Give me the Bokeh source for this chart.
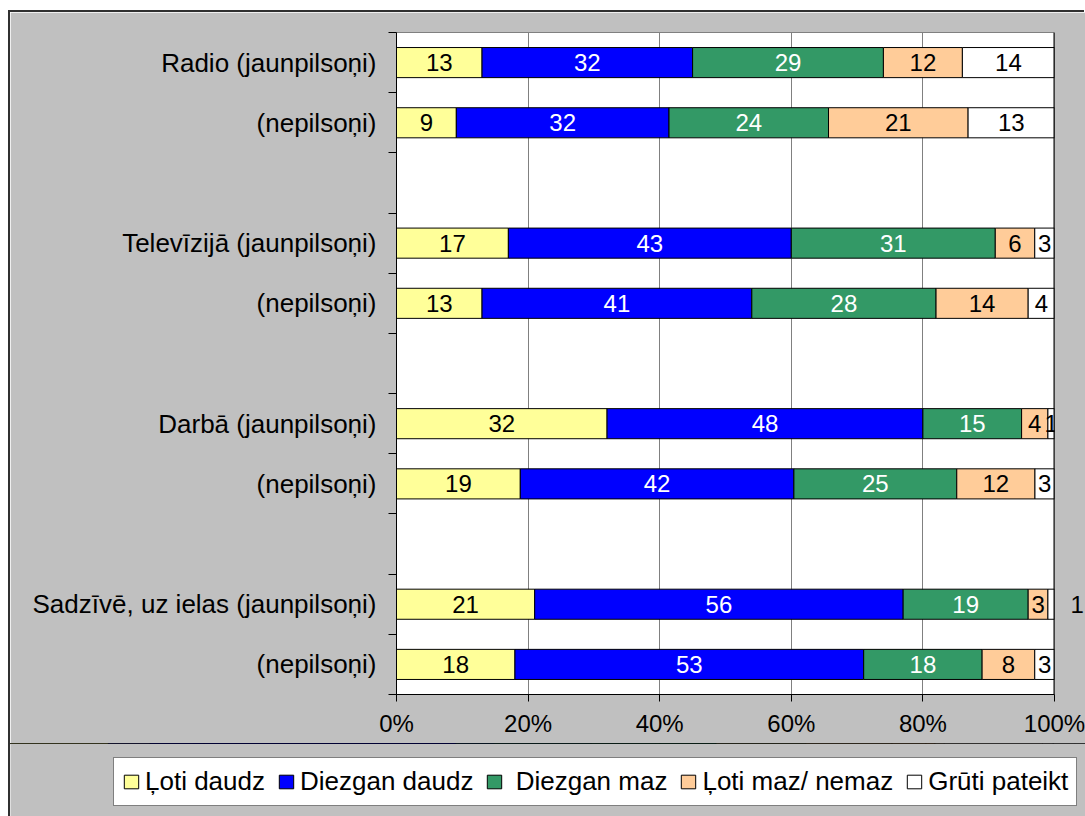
from bokeh.plotting import figure
from bokeh.models import (ColumnDataSource, FixedTicker, Range1d, Legend, LegendItem, Span, LinearAxis)
from bokeh.core.properties import value
from bokeh.embed import file_html
from bokeh.resources import INLINE

categories = ["Radio (jaunpilsoņi)", "(nepilsoņi)",
              "Televīzijā (jaunpilsoņi)", "(nepilsoņi)",
              "Darbā (jaunpilsoņi)", "(nepilsoņi)",
              "Sadzīvē, uz ielas (jaunpilsoņi)", "(nepilsoņi)"]
series_names = ["Ļoti daudz", "Diezgan daudz", " Diezgan maz", "Ļoti maz/ nemaz", "Grūti pateikt"]
loti_daudz = [13, 9, 17, 13, 32, 19, 21, 18]
diezgan_daudz = [32, 32, 43, 41, 48, 42, 56, 53]
diezgan_maz = [29, 24, 31, 28, 15, 25, 19, 18]
loti_maz = [12, 21, 6, 14, 4, 12, 3, 8]
gruti_pateikt = [14, 13, 3, 4, 1, 3, 1, 3]
x_ticks = [0, 20, 40, 60, 80, 100]
x_tick_labels = ["0%", "20%", "40%", "60%", "80%", "100%"]

series = [loti_daudz, diezgan_daudz, diezgan_maz, loti_maz, gruti_pateikt]
colors = ["#FFFF99", "#0000FF", "#339966", "#FFCC99", "#FFFFFF"]
text_colors = ["black", "white", "white", "black", "black"]
GRAY = "#C0C0C0"
FONT = "Liberation Sans"
FS = "24px"
FS_TXT = "26px"
FS_LEG = "26px"

n_slots = len(categories) + len(categories) // 2 - 1  # blank slot between groups
slot_of = [i + i // 2 for i in range(len(categories))]
centers = [s + 0.5 for s in slot_of]

p = figure(frame_width=658, frame_height=662,
           min_border_left=386, min_border_right=31, min_border_top=20, min_border_bottom=51,
           x_range=Range1d(0, 100), y_range=Range1d(n_slots, 0),
           output_backend="svg", toolbar_location=None,
           background_fill_color="white", border_fill_color=GRAY,
           styles={"margin-left": "10px", "margin-top": "12px",
                   "box-shadow": "-2px -2px 0 0 #303030"})

totals = [sum(s[i] for s in series) for i in range(len(categories))]
sources = []
lab_x, lab_y, lab_t, lab_c = [], [], [], []
outside = {}
cum = [0.0] * len(categories)
for k, s in enumerate(series):
    left = [cum[i] for i in range(len(categories))]
    right = [cum[i] + 100.0 * s[i] / totals[i] for i in range(len(categories))]
    src = ColumnDataSource(dict(y=centers, left=left, right=right))
    sources.append(src)
    p.hbar(y="y", left="left", right="right", height=0.5, source=src,
           fill_color=colors[k], line_color="black", line_width=1)
    for i in range(len(categories)):
        # tiny last segment of Sadzīvē (jaunpilsoņi): its label sits outside the plot
        if k == 4 and i == 6:
            outside[centers[i]] = str(s[i])
            continue
        lab_x.append((left[i] + right[i]) / 2)
        lab_y.append(centers[i])
        lab_t.append(str(s[i]))
        lab_c.append(text_colors[k])
    cum = right

lsrc = ColumnDataSource(dict(x=lab_x, y=lab_y, t=lab_t, c=lab_c))
p.text(x="x", y="y", text="t", text_color="c", source=lsrc,
       text_align="center", text_baseline="middle",
       text_font=value(FONT), text_font_size=FS)

# label shown to the right of the plot area
ra = LinearAxis(ticker=FixedTicker(ticks=list(outside.keys())),
                major_label_overrides=outside,
                axis_line_color=None, major_tick_line_color=None, minor_tick_line_color=None,
                major_label_text_font=FONT, major_label_text_font_size=FS,
                major_label_text_color="black", major_label_standoff=10)
p.add_layout(ra, "right")

p.add_layout(Span(location=100, dimension="height", line_color="black", line_width=2))

# grids
p.ygrid.visible = False
p.xgrid.ticker = FixedTicker(ticks=[20, 40, 60, 80])
p.xgrid.grid_line_color = "#808080"
p.xgrid.grid_line_width = 1
p.outline_line_color = "#808080"
p.outline_line_width = 1

# x axis
xa = p.xaxis[0]
xa.ticker = FixedTicker(ticks=x_ticks)
xa.major_label_overrides = {t: l for t, l in zip(x_ticks, x_tick_labels)}
xa.major_tick_in = 0
xa.major_tick_out = 7
xa.minor_tick_line_color = None
xa.axis_line_color = "black"
xa.major_tick_line_color = "black"
xa.major_label_text_font = FONT
xa.major_label_text_font_size = FS
xa.major_label_text_color = "black"
xa.major_label_standoff = 8

# y axis
ya = p.yaxis[0]
ya.ticker = FixedTicker(ticks=centers, minor_ticks=list(range(n_slots + 1)))
ya.major_label_overrides = {c: name for c, name in zip(centers, categories)}
ya.major_tick_in = 0
ya.major_tick_out = 0
ya.minor_tick_in = 0
ya.minor_tick_out = 8
ya.minor_tick_line_color = "black"
ya.axis_line_color = "black"
ya.major_label_text_font = FONT
ya.major_label_text_font_size = FS_TXT
ya.major_label_text_color = "black"
ya.major_label_standoff = 12

# legend strip: a separate root figure right below the chart, same gray background
pl = figure(width=1075, height=73, min_border=0,
            min_border_left=0, min_border_right=0, min_border_top=0, min_border_bottom=0,
            x_axis_type=None, y_axis_type=None,
            x_range=Range1d(0, 100), y_range=Range1d(-100, -90),
            output_backend="svg", toolbar_location=None,
            background_fill_color=GRAY, border_fill_color=GRAY, outline_line_color=None,
            styles={"margin-left": "10px", "margin-top": "-2px",
                    "box-shadow": "-2px 0 0 0 #303030"})
proxies = []
for k in range(5):
    # same data as the chart; outside this strip's y-range, so only the legend swatch shows
    proxies.append(pl.hbar(y="y", left="left", right="right", height=0.5, source=sources[k],
                           fill_color=colors[k], line_color="black", line_width=1))
legend = Legend(items=[LegendItem(label=series_names[k], renderers=[proxies[k]]) for k in range(5)],
                orientation="horizontal", location=(103, 10),
                label_text_font=FONT, label_text_font_size=FS_LEG, label_text_color="black",
                glyph_width=18, glyph_height=17, label_standoff=5, spacing=12,
                padding=8, margin=0,
                border_line_color="black", border_line_width=1,
                background_fill_color="white", background_fill_alpha=1.0)
pl.add_layout(legend, "center")

open("out.html", "w").write(file_html([p, pl], INLINE))
